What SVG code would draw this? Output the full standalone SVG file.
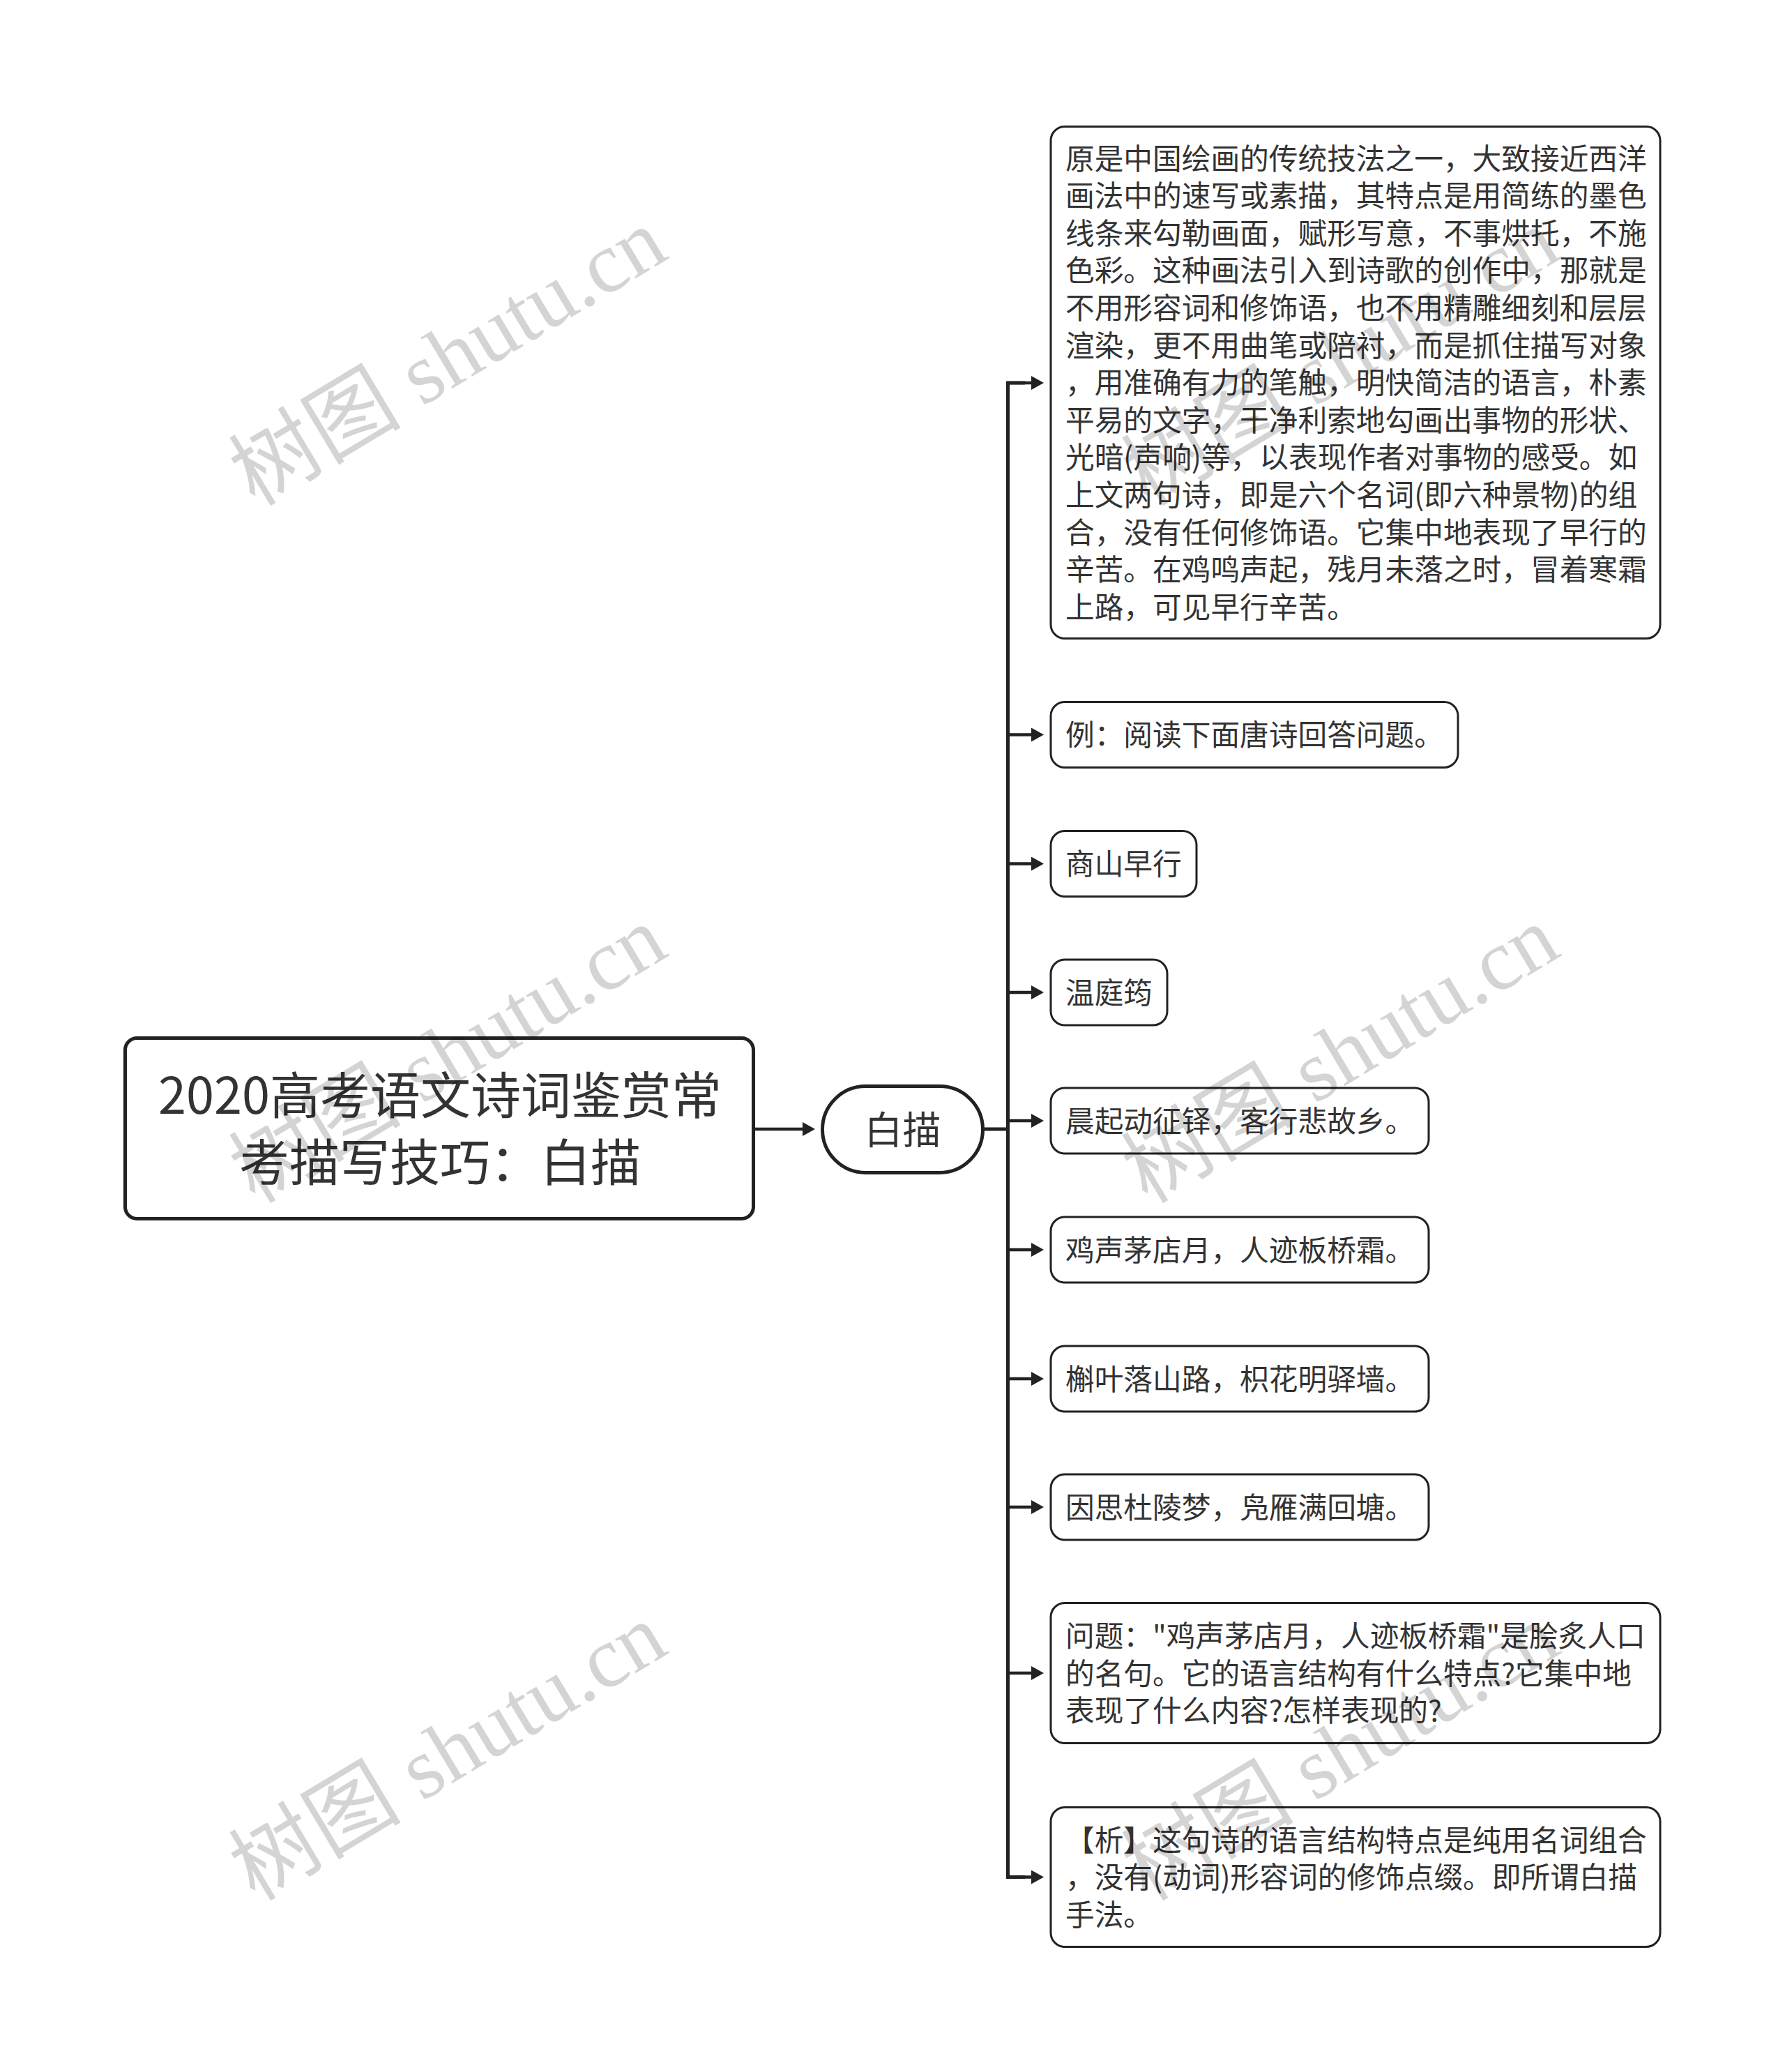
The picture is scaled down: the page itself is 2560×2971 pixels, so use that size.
<svg xmlns="http://www.w3.org/2000/svg" width="2560" height="2971" viewBox="0 0 2560 2971">
<style>
.box{fill:#fff;stroke:#222;stroke-width:3}
.main{fill:#fff;stroke:#222;stroke-width:5}
.t{font-family:"Noto Sans CJK SC","Noto Sans",sans-serif;font-size:41.7px;fill:#333}
.rt{font-family:"Noto Sans CJK SC","Noto Sans",sans-serif;font-size:72px;fill:#333;text-anchor:middle}
.st{font-family:"Noto Sans CJK SC","Noto Sans",sans-serif;font-size:55px;fill:#333;text-anchor:middle}
.ln{fill:none;stroke:#222;stroke-width:5;stroke-linejoin:miter}
.ar{fill:none;stroke:#222;stroke-width:4.5;marker-end:url(#ah)}
.wm{font-family:"Liberation Serif","Noto Sans CJK SC",serif;font-size:124px;fill:#000;fill-opacity:0.17;text-anchor:middle}
</style>
<defs>
<marker id="ah" markerUnits="userSpaceOnUse" markerWidth="20" markerHeight="22" refX="1" refY="10" orient="auto">
<path d="M0,0 L18,10 L0,20 Z" fill="#222"/>
</marker>
</defs>
<rect width="2560" height="2971" fill="#fff"/>
<g id="connectors">
<line class="ar" x1="1083" y1="1619" x2="1152" y2="1619"/>
<line class="ln" x1="1412" y1="1619" x2="1445.5" y2="1619"/>
<path class="ln" d="M1470,549 H1445.5 V2691.5 H1470"/>
<line class="ar" x1="1445.5" y1="549" x2="1480" y2="549"/>
<line class="ar" x1="1445.5" y1="1053.5" x2="1480" y2="1053.5"/>
<line class="ar" x1="1445.5" y1="1238.5" x2="1480" y2="1238.5"/>
<line class="ar" x1="1445.5" y1="1423" x2="1480" y2="1423"/>
<line class="ar" x1="1445.5" y1="1607" x2="1480" y2="1607"/>
<line class="ar" x1="1445.5" y1="1792" x2="1480" y2="1792"/>
<line class="ar" x1="1445.5" y1="1977" x2="1480" y2="1977"/>
<line class="ar" x1="1445.5" y1="2161" x2="1480" y2="2161"/>
<line class="ar" x1="1445.5" y1="2399" x2="1480" y2="2399"/>
<line class="ar" x1="1445.5" y1="2691.5" x2="1480" y2="2691.5"/>
</g>
<g id="root">
<rect class="main" x="179.5" y="1488.5" width="901" height="259" rx="17"/>
<text class="rt" x="631" y="1597">2020高考语文诗词鉴赏常</text>
<text class="rt" x="631" y="1692.5">考描写技巧：白描</text>
</g>
<g id="baimiao">
<rect class="main" x="1179.5" y="1557.5" width="230" height="124" rx="62"/>
<text class="st" x="1294.5" y="1640">白描</text>
</g>
<g id="n1">
<rect class="box" x="1507" y="181.5" width="874" height="734" rx="20"/>
<text class="t" x="1528">
<tspan x="1528" y="242.5">原是中国绘画的传统技法之一，大致接近西洋</tspan>
<tspan x="1528" y="296.1">画法中的速写或素描，其特点是用简练的墨色</tspan>
<tspan x="1528" y="349.7">线条来勾勒画面，赋形写意，不事烘托，不施</tspan>
<tspan x="1528" y="403.3">色彩。这种画法引入到诗歌的创作中，那就是</tspan>
<tspan x="1528" y="456.9">不用形容词和修饰语，也不用精雕细刻和层层</tspan>
<tspan x="1528" y="510.5">渲染，更不用曲笔或陪衬，而是抓住描写对象</tspan>
<tspan x="1528" y="564.1">，用准确有力的笔触，明快简洁的语言，朴素</tspan>
<tspan x="1528" y="617.7">平易的文字，干净利索地勾画出事物的形状、</tspan>
<tspan x="1528" y="671.3">光暗(声响)等，以表现作者对事物的感受。如</tspan>
<tspan x="1528" y="724.9">上文两句诗，即是六个名词(即六种景物)的组</tspan>
<tspan x="1528" y="778.5">合，没有任何修饰语。它集中地表现了早行的</tspan>
<tspan x="1528" y="832.1">辛苦。在鸡鸣声起，残月未落之时，冒着寒霜</tspan>
<tspan x="1528" y="885.7">上路，可见早行辛苦。</tspan>
</text>
</g>
<g id="n2">
<rect class="box" x="1507" y="1006.5" width="584" height="94" rx="20"/>
<text class="t" x="1528" y="1069">例：阅读下面唐诗回答问题。</text>
</g>
<g id="n3">
<rect class="box" x="1507" y="1191.5" width="209" height="94" rx="20"/>
<text class="t" x="1528" y="1254">商山早行</text>
</g>
<g id="n4">
<rect class="box" x="1507" y="1376" width="167" height="94" rx="20"/>
<text class="t" x="1528" y="1438.5">温庭筠</text>
</g>
<g id="n5">
<rect class="box" x="1507" y="1560" width="542" height="94" rx="20"/>
<text class="t" x="1528" y="1622.5">晨起动征铎，客行悲故乡。</text>
</g>
<g id="n6">
<rect class="box" x="1507" y="1745" width="542" height="94" rx="20"/>
<text class="t" x="1528" y="1807.5">鸡声茅店月，人迹板桥霜。</text>
</g>
<g id="n7">
<rect class="box" x="1507" y="1930" width="542" height="94" rx="20"/>
<text class="t" x="1528" y="1992.5">槲叶落山路，枳花明驿墙。</text>
</g>
<g id="n8">
<rect class="box" x="1507" y="2114" width="542" height="94" rx="20"/>
<text class="t" x="1528" y="2176.5">因思杜陵梦，凫雁满回塘。</text>
</g>
<g id="n9">
<rect class="box" x="1507" y="2298.5" width="874" height="201" rx="20"/>
<text class="t" x="1528">
<tspan x="1528" y="2361">问题："鸡声茅店月，人迹板桥霜"是脍炙人口</tspan>
<tspan x="1528" y="2414.5">的名句。它的语言结构有什么特点?它集中地</tspan>
<tspan x="1528" y="2468">表现了什么内容?怎样表现的?</tspan>
</text>
</g>
<g id="n10">
<rect class="box" x="1507" y="2591.5" width="874" height="200" rx="20"/>
<text class="t" x="1528">
<tspan x="1528" y="2653.5">【析】这句诗的语言结构特点是纯用名词组合</tspan>
<tspan x="1528" y="2707">，没有(动词)形容词的修饰点缀。即所谓白描</tspan>
<tspan x="1528" y="2760.5">手法。</tspan>
</text>
</g>
<g id="watermarks">
<text class="wm" transform="translate(664,548) rotate(-31)">树图 shutu.cn</text>
<text class="wm" transform="translate(1944,548) rotate(-31)">树图 shutu.cn</text>
<text class="wm" transform="translate(664,1548) rotate(-31)">树图 shutu.cn</text>
<text class="wm" transform="translate(1944,1548) rotate(-31)">树图 shutu.cn</text>
<text class="wm" transform="translate(664,2548) rotate(-31)">树图 shutu.cn</text>
<text class="wm" transform="translate(1944,2548) rotate(-31)">树图 shutu.cn</text>
</g>
</svg>
